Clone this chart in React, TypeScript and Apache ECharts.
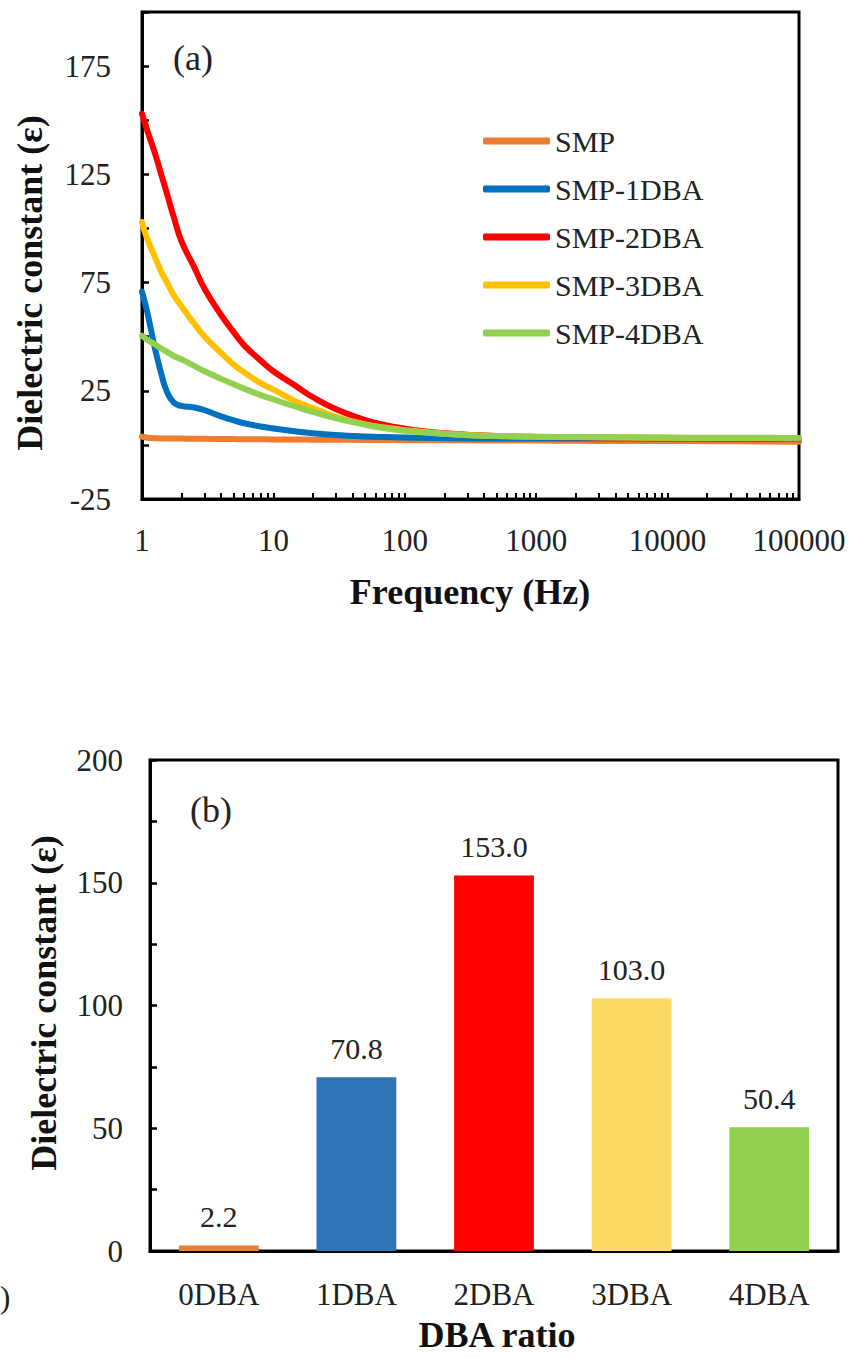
import React, { useEffect, useRef } from "react";
import * as echarts from "echarts";

// ---- Panel (a): dielectric constant vs frequency ----
const freqs = [1, 1.1, 1.25, 1.4, 1.55, 1.75, 2, 2.5, 3, 4, 5, 6, 8, 10, 15, 20, 30, 50, 70, 100, 150, 200, 300, 500, 1000, 2000, 5000, 10000, 20000, 50000, 100000];
const smp = [3.8, 3.3, 3.1, 3.0, 3.0, 2.9, 2.9, 2.8, 2.8, 2.7, 2.7, 2.6, 2.6, 2.5, 2.5, 2.4, 2.4, 2.3, 2.3, 2.2, 2.2, 2.1, 2.1, 2.0, 2.0, 1.9, 1.8, 1.8, 1.7, 1.6, 1.5];
const smp1 = [70.8, 61, 45, 33, 24.5, 19.5, 18, 17.3, 16, 13.2, 11.3, 10, 8.5, 7.6, 6.2, 5.4, 4.6, 3.9, 3.6, 3.4, 3.2, 3.1, 3.0, 3.0, 2.9, 2.9, 2.9, 2.8, 2.8, 2.8, 2.8];
const smp2 = [153, 145, 135, 125, 116, 105, 94, 82, 72, 60, 52, 46, 39, 34, 27, 22, 16.5, 11.5, 9.2, 7.5, 6.1, 5.4, 4.7, 4.1, 3.7, 3.5, 3.3, 3.2, 3.1, 3.0, 3.0];
const smp3 = [103, 95, 87, 80, 75, 69, 64, 56, 50, 42.5, 37, 33.5, 28.5, 25.5, 20, 17, 13, 9.5, 8, 6.8, 5.8, 5.2, 4.6, 4.1, 3.8, 3.6, 3.4, 3.3, 3.2, 3.2, 3.1];
const smp4 = [50.4, 48.5, 46.5, 44.5, 43, 41, 39.5, 36.5, 34, 30.5, 28, 26, 23, 21, 17.5, 15.2, 12.3, 9.3, 7.7, 6.5, 5.6, 5.1, 4.5, 4.1, 3.8, 3.6, 3.5, 3.4, 3.3, 3.3, 3.2];
const lineNames = ["SMP", "SMP-1DBA", "SMP-2DBA", "SMP-3DBA", "SMP-4DBA"];
const lineColors = ["#ED7D31", "#0070C0", "#FF0000", "#FFC000", "#92D050"];
const lineValues = [smp, smp1, smp2, smp3, smp4];
const yTicksA = [-25, 25, 75, 125, 175];

// ---- Panel (b): dielectric constant by DBA ratio ----
const categories = ["0DBA", "1DBA", "2DBA", "3DBA", "4DBA"];
const barValues = [2.2, 70.8, 153.0, 103.0, 50.4];
const barColors = ["#ED7D31", "#2E75B6", "#FF0000", "#FFD966", "#92D050"];

const FAMILY = "'Liberation Serif', 'Times New Roman', serif";

export default function App() {
  const ref = useRef<HTMLDivElement>(null);

  useEffect(() => {
    document.body.style.margin = "0";
    const chart = echarts.init(ref.current!, null, { renderer: "svg" });

    // tick positions for log axis (1..9 per decade) in log10 space
    const logTicks: number[] = [];
    for (let k = 0; k < 5; k++) {
      for (let m = 1; m < 10; m++) logTicks.push(Math.log10(m * Math.pow(10, k)));
    }
    logTicks.push(5);

    const series: any[] = lineNames.map((name, i) => ({
      name,
      type: "line",
      xAxisIndex: 0,
      yAxisIndex: 0,
      data: freqs.map((f, j) => [f, lineValues[i][j]]),
      showSymbol: false,
      symbol: "none",
      smooth: 0.5,
      itemStyle: { color: lineColors[i] },
      lineStyle: { color: lineColors[i], width: 6, cap: "round", join: "round" },
      z: 2 + i,
    }));

    series.push({
      type: "bar",
      xAxisIndex: 2,
      yAxisIndex: 1,
      barCategoryGap: "42%",
      data: barValues.map((v, i) => ({ value: v, itemStyle: { color: barColors[i] } })),
      label: {
        show: true,
        position: "top",
        distance: 14,
        formatter: (p: any) => Number(p.value).toFixed(1),
        fontFamily: FAMILY,
        fontSize: 30,
        color: "#222",
      },
    });

    const axisLine = { show: true, onZero: false, lineStyle: { color: "#000", width: 3 } };

    chart.setOption({
      animation: false,
      backgroundColor: "#fff",
      textStyle: { fontFamily: FAMILY },
      grid: [
        { left: 142, top: 12, width: 657, height: 487, show: true, borderColor: "#000", borderWidth: 3, backgroundColor: "transparent" },
        { left: 150, top: 760, width: 688, height: 491, show: true, borderColor: "#000", borderWidth: 3, backgroundColor: "transparent" },
      ],
      legend: {
        orient: "vertical",
        left: 478,
        top: 121,
        icon: "roundRect",
        itemWidth: 67,
        itemHeight: 7,
        itemGap: 18,
        itemStyle: { borderWidth: 0 },
        textStyle: { fontFamily: FAMILY, fontSize: 30, color: "#222", lineHeight: 30 },
        data: lineNames,
      },
      xAxis: [
        {
          type: "log",
          logBase: 10,
          gridIndex: 0,
          min: 1,
          max: 100000,
          position: "bottom",
          axisLine,
          axisTick: { show: false },
          splitLine: { show: false },
          minorTick: { show: false },
          axisLabel: { fontFamily: FAMILY, fontSize: 31, color: "#222", margin: 26, formatter: (v: number) => String(Math.round(v)) },
        },
        {
          type: "value",
          gridIndex: 0,
          min: 0,
          max: 5,
          position: "bottom",
          axisLine: { show: false, onZero: false },
          axisTick: { show: true, inside: true, length: 6, lineStyle: { color: "#000", width: 2 }, customValues: logTicks },
          axisLabel: { show: false },
          splitLine: { show: false },
        },
        {
          type: "category",
          gridIndex: 1,
          data: categories,
          position: "bottom",
          axisLine,
          axisTick: { show: false },
          axisLabel: { fontFamily: FAMILY, fontSize: 31, color: "#222", margin: 28 },
        },
      ],
      yAxis: [
        {
          type: "value",
          gridIndex: 0,
          min: -25,
          max: 200,
          interval: 25,
          axisLine,
          axisTick: { show: true, inside: true, length: 7, lineStyle: { color: "#000", width: 2.5 } },
          splitLine: { show: false },
          axisLabel: {
            fontFamily: FAMILY,
            fontSize: 31,
            color: "#222",
            margin: 31,
            formatter: (v: number) => (yTicksA.indexOf(v) >= 0 ? String(v) : ""),
          },
        },
        {
          type: "value",
          gridIndex: 1,
          min: 0,
          max: 200,
          interval: 25,
          axisLine,
          axisTick: { show: true, inside: true, length: 7, lineStyle: { color: "#000", width: 2.5 } },
          splitLine: { show: false },
          axisLabel: {
            fontFamily: FAMILY,
            fontSize: 31,
            color: "#222",
            margin: 27,
            formatter: (v: number) => (v % 50 === 0 ? String(v) : ""),
          },
        },
      ],
      graphic: [
        { type: "text", x: 173, y: 58, style: { text: "(a)", font: `36px ${FAMILY}`, fill: "#222", textAlign: "left", textVerticalAlign: "middle" } },
        { type: "text", x: 190, y: 810, style: { text: "(b)", font: `36px ${FAMILY}`, fill: "#222", textAlign: "left", textVerticalAlign: "middle" } },
        { type: "text", x: 30, y: 283, rotation: Math.PI / 2, style: { text: "Dielectric constant (ε)", font: `bold 36px ${FAMILY}`, fill: "#111", textAlign: "center", textVerticalAlign: "middle" } },
        { type: "text", x: 44, y: 1003, rotation: Math.PI / 2, style: { text: "Dielectric constant (ε)", font: `bold 36px ${FAMILY}`, fill: "#111", textAlign: "center", textVerticalAlign: "middle" } },
        { type: "text", x: 470, y: 592, style: { text: "Frequency (Hz)", font: `bold 36px ${FAMILY}`, fill: "#111", textAlign: "center", textVerticalAlign: "middle" } },
        { type: "text", x: 497, y: 1335, style: { text: "DBA ratio", font: `bold 36px ${FAMILY}`, fill: "#111", textAlign: "center", textVerticalAlign: "middle" } },
        { type: "text", x: 0, y: 1297, style: { text: ")", font: `31px ${FAMILY}`, fill: "#222", textAlign: "left", textVerticalAlign: "middle" } },
      ],
      series,
    });

    return () => chart.dispose();
  }, []);

  return <div ref={ref} style={{ width: 853, height: 1358 }} />;
}
